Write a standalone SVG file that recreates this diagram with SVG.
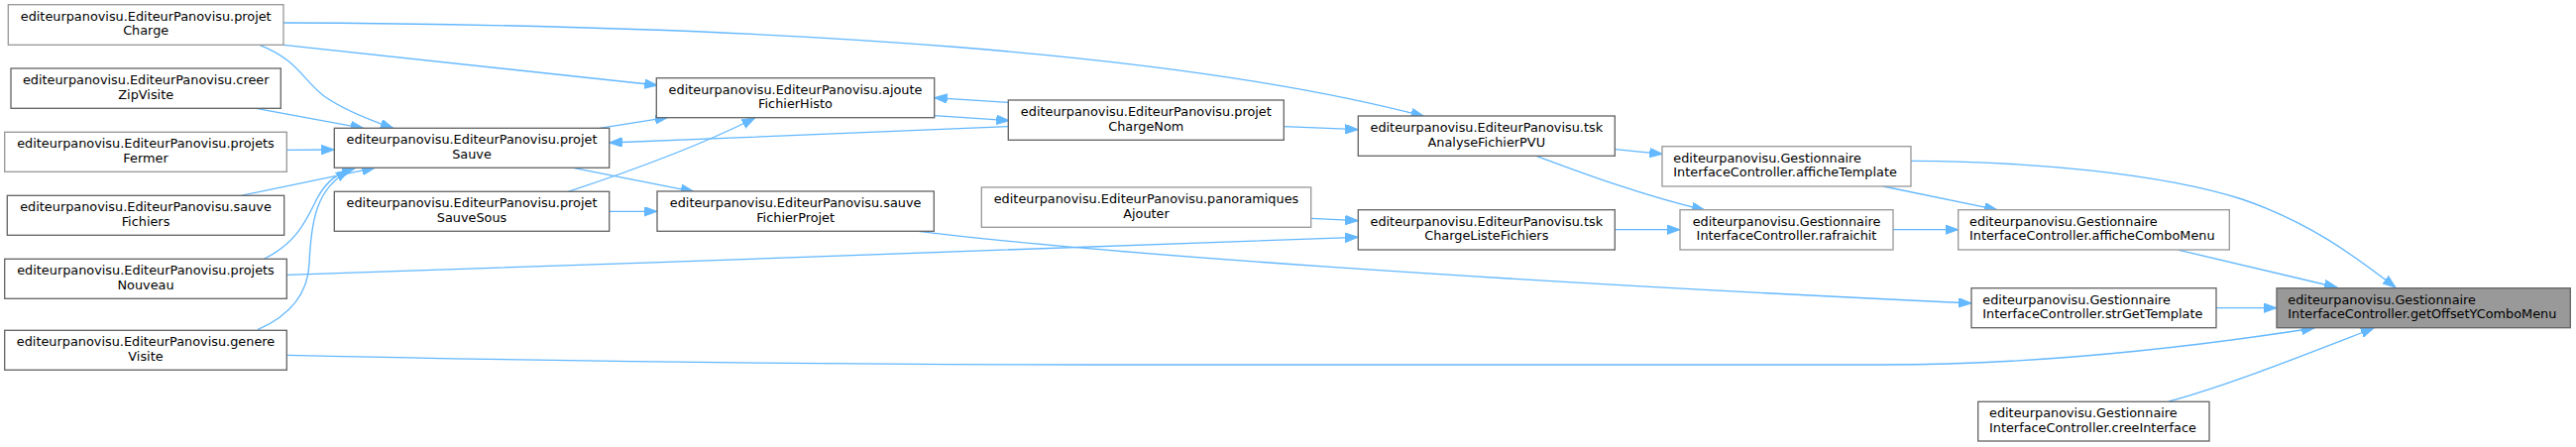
<svg xmlns="http://www.w3.org/2000/svg" width="2599" height="451" viewBox="0 0 2599 451">
<defs>
<style>
.bx{fill:#ffffff;stroke:#666666;stroke-width:1.33}
.lt{stroke:#999999}
.root{fill:#999999;stroke:#666666}
.t{font-family:"DejaVu Sans","Liberation Sans",sans-serif;font-size:12.85px;fill:#000000}
.c{text-anchor:middle}
.l{text-anchor:start}
.e{fill:none;stroke:#63b8ff;stroke-width:1.33}
</style>
<marker id="ah" markerUnits="userSpaceOnUse" markerWidth="14" markerHeight="10" refX="13" refY="4.7" orient="auto">
<path d="M0,0 L13,4.7 L0,9.4 Z" fill="#63b8ff" stroke="#63b8ff" stroke-width="1"/>
</marker>
</defs>
<rect width="2599" height="451" fill="#ffffff"/>
<g id="edges">
<path class="e" marker-end="url(#ah)" d="M1928,162.3 C2050,163 2180,175 2262,201 C2330,224 2375,258 2417,290"/>
<path class="e" marker-end="url(#ah)" d="M2198.3,252.3 L2358,290"/>
<path class="e" marker-end="url(#ah)" d="M2236,310.7 L2297,310.7"/>
<path class="e" marker-end="url(#ah)" d="M289.3,358.3 C500,363 800,368 1100,368 L1900,368 C2050,368 2200,352 2335,331"/>
<path class="e" marker-end="url(#ah)" d="M2188.3,405 C2250,388 2320,360 2395,331"/>
<path class="e" marker-end="url(#ah)" d="M1900,188 L2015,211.7"/>
<path class="e" marker-end="url(#ah)" d="M1910,231.7 L1975.7,231.7"/>
<path class="e" marker-end="url(#ah)" d="M1629.3,150.7 L1677.3,155.3"/>
<path class="e" marker-end="url(#ah)" d="M1550,157.3 C1600,176 1660,198 1720,212"/>
<path class="e" marker-end="url(#ah)" d="M1629.3,231.7 L1695,231.7"/>
<path class="e" marker-end="url(#ah)" d="M1322.7,220.3 L1370.3,222.7"/>
<path class="e" marker-end="url(#ah)" d="M289.3,277.3 C650,266 1000,252 1370.3,239.3"/>
<path class="e" marker-end="url(#ah)" d="M926.7,233.3 C1100,255 1500,283 1989,306"/>
<path class="e" marker-end="url(#ah)" d="M1295.3,127.7 L1370.3,130.7"/>
<path class="e" marker-end="url(#ah)" d="M286,23 C800,25 1200,55 1436.7,117.3"/>
<path class="e" marker-end="url(#ah)" d="M286,45.3 L663.3,86"/>
<path class="e" marker-end="url(#ah)" d="M261.7,45.3 C300,60 305,80 326.7,96.7 C345,110 370,120 396.7,129.3"/>
<path class="e" marker-end="url(#ah)" d="M258.3,109.3 L366.7,129.3"/>
<path class="e" marker-end="url(#ah)" d="M289.3,151.3 L337.3,151"/>
<path class="e" marker-end="url(#ah)" d="M243.3,197.3 L378.3,169.3"/>
<path class="e" marker-end="url(#ah)" d="M266.7,261 C300,245 310,220 320,200 C330,182 340,175 358,170"/>
<path class="e" marker-end="url(#ah)" d="M260,332.7 C300,315 311,290 312,266 C314,220 320,190 352,172"/>
<path class="e" marker-end="url(#ah)" d="M605,129.3 L674,118.3"/>
<path class="e" marker-end="url(#ah)" d="M573.3,193.3 C620,178 700,150 761.7,119"/>
<path class="e" marker-end="url(#ah)" d="M578.3,169.3 L700,193.3"/>
<path class="e" marker-end="url(#ah)" d="M614.7,213.3 L663,213.3"/>
<path class="e" marker-end="url(#ah)" d="M1017.3,127.7 C900,132 750,139 614.7,144"/>
<path class="e" marker-end="url(#ah)" d="M1017.3,103.3 L942.7,98.7"/>
<path class="e" marker-end="url(#ah)" d="M942.7,116.7 L1018.3,121.7"/>
</g>
<g id="projetCharge"><rect class="bx lt" x="8.3" y="4.7" width="277.7" height="40.6"/><text class="t c" x="147.2" y="20.5">editeurpanovisu.EditeurPanovisu.projet</text><text class="t c" x="147.2" y="35.2">Charge</text></g>
<g id="creerZipVisite"><rect class="bx" x="11" y="69" width="272.3" height="40.3"/><text class="t c" x="147.2" y="84.8">editeurpanovisu.EditeurPanovisu.creer</text><text class="t c" x="147.2" y="99.5">ZipVisite</text></g>
<g id="projetsFermer"><rect class="bx lt" x="4.7" y="133.3" width="284.6" height="40"/><text class="t c" x="147" y="149.1">editeurpanovisu.EditeurPanovisu.projets</text><text class="t c" x="147" y="163.8">Fermer</text></g>
<g id="sauveFichiers"><rect class="bx" x="7.3" y="197.3" width="279.4" height="40"/><text class="t c" x="147" y="213.1">editeurpanovisu.EditeurPanovisu.sauve</text><text class="t c" x="147" y="227.8">Fichiers</text></g>
<g id="projetsNouveau"><rect class="bx" x="4.7" y="261.3" width="284.6" height="40"/><text class="t c" x="147" y="277.1">editeurpanovisu.EditeurPanovisu.projets</text><text class="t c" x="147" y="291.8">Nouveau</text></g>
<g id="genereVisite"><rect class="bx" x="4.7" y="333.3" width="284.6" height="40"/><text class="t c" x="147" y="349.1">editeurpanovisu.EditeurPanovisu.genere</text><text class="t c" x="147" y="363.8">Visite</text></g>
<g id="projetSauve"><rect class="bx" x="337.3" y="129.3" width="277.4" height="40"/><text class="t c" x="476" y="145.1">editeurpanovisu.EditeurPanovisu.projet</text><text class="t c" x="476" y="159.8">Sauve</text></g>
<g id="projetSauveSous"><rect class="bx" x="337.3" y="193.3" width="277.4" height="40"/><text class="t c" x="476" y="209.1">editeurpanovisu.EditeurPanovisu.projet</text><text class="t c" x="476" y="223.8">SauveSous</text></g>
<g id="ajouteFichierHisto"><rect class="bx" x="662.3" y="78.7" width="280.4" height="40"/><text class="t c" x="802.5" y="94.5">editeurpanovisu.EditeurPanovisu.ajoute</text><text class="t c" x="802.5" y="109.2">FichierHisto</text></g>
<g id="sauveFichierProjet"><rect class="bx" x="663" y="193" width="279.3" height="40.3"/><text class="t c" x="802.6" y="208.8">editeurpanovisu.EditeurPanovisu.sauve</text><text class="t c" x="802.6" y="223.5">FichierProjet</text></g>
<g id="projetChargeNom"><rect class="bx" x="1017.3" y="101" width="278" height="40.3"/><text class="t c" x="1156.3" y="116.8">editeurpanovisu.EditeurPanovisu.projet</text><text class="t c" x="1156.3" y="131.5">ChargeNom</text></g>
<g id="panoramiquesAjouter"><rect class="bx lt" x="990.3" y="189" width="332.4" height="40.3"/><text class="t c" x="1156.5" y="204.8">editeurpanovisu.EditeurPanovisu.panoramiques</text><text class="t c" x="1156.5" y="219.5">Ajouter</text></g>
<g id="tskAnalyseFichierPVU"><rect class="bx" x="1370.3" y="117" width="259" height="40.3"/><text class="t c" x="1499.8" y="132.8">editeurpanovisu.EditeurPanovisu.tsk</text><text class="t c" x="1499.8" y="147.5">AnalyseFichierPVU</text></g>
<g id="tskChargeListeFichiers"><rect class="bx" x="1370.3" y="211.7" width="259" height="40.3"/><text class="t c" x="1499.8" y="227.5">editeurpanovisu.EditeurPanovisu.tsk</text><text class="t c" x="1499.8" y="242.2">ChargeListeFichiers</text></g>
<g id="afficheTemplate"><rect class="bx lt" x="1677" y="147.7" width="251" height="40.3"/><text class="t l" x="1688.3" y="163.5">editeurpanovisu.Gestionnaire</text><text class="t l" x="1688.3" y="178.2">InterfaceController.afficheTemplate</text></g>
<g id="rafraichit"><rect class="bx lt" x="1695" y="211.7" width="215" height="40.3"/><text class="t c" x="1802.5" y="227.5">editeurpanovisu.Gestionnaire</text><text class="t c" x="1802.5" y="242.2">InterfaceController.rafraichit</text></g>
<g id="afficheComboMenu"><rect class="bx lt" x="1975.7" y="211.7" width="273.6" height="40.3"/><text class="t l" x="1987" y="227.5">editeurpanovisu.Gestionnaire</text><text class="t l" x="1987" y="242.2">InterfaceController.afficheComboMenu</text></g>
<g id="strGetTemplate"><rect class="bx" x="1989" y="290.7" width="247" height="40"/><text class="t l" x="2000.3" y="306.5">editeurpanovisu.Gestionnaire</text><text class="t l" x="2000.3" y="321.2">InterfaceController.strGetTemplate</text></g>
<g id="creeInterface"><rect class="bx" x="1995.7" y="405.3" width="233.3" height="39.7"/><text class="t l" x="2007" y="421.1">editeurpanovisu.Gestionnaire</text><text class="t l" x="2007" y="435.8">InterfaceController.creeInterface</text></g>
<g id="getOffsetYComboMenu"><rect class="bx root" x="2297" y="290.7" width="296.3" height="40"/><text class="t l" x="2308.3" y="306.5">editeurpanovisu.Gestionnaire</text><text class="t l" x="2308.3" y="321.2">InterfaceController.getOffsetYComboMenu</text></g>
</svg>
